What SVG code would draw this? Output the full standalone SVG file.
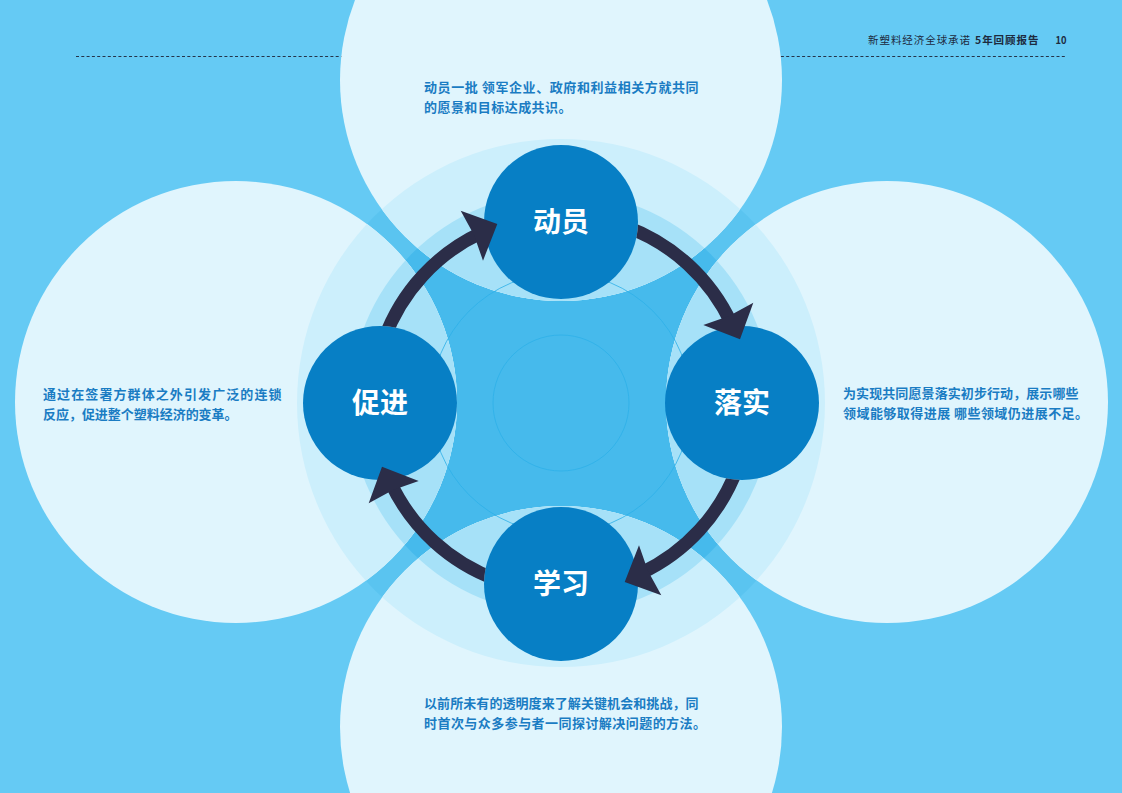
<svg xmlns="http://www.w3.org/2000/svg" width="1122" height="793" viewBox="0 0 1122 793">
<style>
.desc{font-family:"Noto Sans CJK SC","Noto Sans",sans-serif;font-weight:700;font-size:13px;fill:#1A7CC3;letter-spacing:0.45px}
.hdr{font-family:"Noto Sans CJK SC","Noto Sans",sans-serif;font-size:10.5px;fill:#1D2B3F}
.hdrb{font-family:"Noto Sans CJK SC","Noto Sans",sans-serif;font-size:10.5px;font-weight:700;fill:#1D2B3F}
.node circle{fill:#077FC5}
.node text{font-family:"Noto Sans CJK SC","Noto Sans",sans-serif;font-weight:700;font-size:28px;fill:#FFFFFF;text-anchor:middle}
.shaft{fill:none;stroke:#2B2D48;stroke-width:13}
.head{fill:#2B2D48}
.thin{fill:none;stroke:#2DB0E8;stroke-opacity:0.8;stroke-width:1}
</style>
<defs>
<clipPath id="bigClip">
<circle cx="561" cy="80" r="221"/>
<circle cx="561" cy="727" r="221"/>
<circle cx="236" cy="402" r="221"/>
<circle cx="887" cy="402" r="221"/>
</clipPath>
<mask id="nodeMask" maskUnits="userSpaceOnUse" x="0" y="0" width="1122" height="793">
<rect x="0" y="0" width="1122" height="793" fill="#fff"/>
<circle cx="561" cy="222" r="77" fill="#000"/>
<circle cx="742" cy="403" r="77" fill="#000"/>
<circle cx="561" cy="584" r="77" fill="#000"/>
<circle cx="380" cy="403" r="77" fill="#000"/>
</mask>
</defs>

<rect x="0" y="0" width="1122" height="793" fill="#65CAF4"/>

<!-- header -->
<g id="header">
<line x1="76" y1="56.5" x2="1066" y2="56.5" stroke="#24344A" stroke-width="1" stroke-dasharray="3 2.3"/>
<text class="hdr" x="868" y="43.5" textLength="102" lengthAdjust="spacing">新塑料经济全球承诺</text>
<text class="hdrb" x="975" y="43.5" textLength="63.5" lengthAdjust="spacing">5年回顾报告</text>
<text class="hdrb" x="1055.5" y="43.5" textLength="11" lengthAdjust="spacingAndGlyphs">10</text>
</g>

<!-- background rings -->
<g id="rings">
<circle cx="561" cy="403" r="264" fill="#5AC4F0"/>
<circle cx="561" cy="403" r="211" fill="#46BAEC"/>
</g>

<!-- big pale circles -->
<g id="panels">
<circle cx="561" cy="80" r="221" fill="#E0F5FD"/>
<circle cx="561" cy="727" r="221" fill="#E0F5FD"/>
<circle cx="236" cy="402" r="221" fill="#E0F5FD"/>
<circle cx="887" cy="402" r="221" fill="#E0F5FD"/>
<g clip-path="url(#bigClip)">
<circle cx="561" cy="403" r="264" fill="#CCEFFC"/>
<circle cx="561" cy="403" r="211" fill="#A6E1F8"/>
</g>
<circle class="thin" cx="561" cy="403" r="130"/>
<circle class="thin" cx="561" cy="403" r="68"/>
</g>

<!-- descriptions -->
<g id="desc-top">
<text class="desc" x="424" y="92" textLength="275" lengthAdjust="spacing">动员一批 领军企业、政府和利益相关方就共同</text>
<text class="desc" x="424" y="111.5">的愿景和目标达成共识。</text>
</g>
<g id="desc-right">
<text class="desc" x="843" y="398" textLength="236" lengthAdjust="spacing">为实现共同愿景落实初步行动，展示哪些</text>
<text class="desc" x="843" y="418">领域能够取得进展 哪些领域仍进展不足。</text>
</g>
<g id="desc-bottom">
<text class="desc" x="424" y="707.5" textLength="275" lengthAdjust="spacing">以前所未有的透明度来了解关键机会和挑战，同</text>
<text class="desc" x="424" y="727.5">时首次与众多参与者一同探讨解决问题的方法。</text>
</g>
<g id="desc-left">
<text class="desc" x="43" y="399" textLength="239" lengthAdjust="spacing">通过在签署方群体之外引发广泛的连锁</text>
<text class="desc" x="43" y="419" textLength="195" lengthAdjust="spacing">反应，促进整个塑料经济的变革。</text>
</g>

<!-- nodes -->
<g id="node-mobilize" class="node">
<circle cx="561" cy="222" r="77"/>
<text x="561" y="232">动员</text>
</g>
<g id="node-implement" class="node">
<circle cx="742" cy="403" r="77"/>
<text x="742" y="413">落实</text>
</g>
<g id="node-learn" class="node">
<circle cx="561" cy="584" r="77"/>
<text x="561" y="594">学习</text>
</g>
<g id="node-promote" class="node">
<circle cx="380" cy="403" r="77"/>
<text x="380" y="413">促进</text>
</g>

<!-- connectors -->
<g id="connectors">
<g id="c-mobilize-implement">
<path class="shaft" mask="url(#nodeMask)" d="M625.3 226.34 A188 188 0 0 1 731.39 323.55"/>
<polygon class="head" points="740,339.3 753.3,302.7 729,316 703.3,325"/>
</g>
<g id="c-implement-learn" transform="rotate(90 561 403)">
<path class="shaft" mask="url(#nodeMask)" d="M625.3 226.34 A188 188 0 0 1 731.39 323.55"/>
<polygon class="head" points="740,339.3 753.3,302.7 729,316 703.3,325"/>
</g>
<g id="c-learn-promote" transform="rotate(180 561 403)">
<path class="shaft" mask="url(#nodeMask)" d="M625.3 226.34 A188 188 0 0 1 731.39 323.55"/>
<polygon class="head" points="740,339.3 753.3,302.7 729,316 703.3,325"/>
</g>
<g id="c-promote-mobilize" transform="rotate(-90 561 403)">
<path class="shaft" mask="url(#nodeMask)" d="M625.3 226.34 A188 188 0 0 1 731.39 323.55"/>
<polygon class="head" points="740,339.3 753.3,302.7 729,316 703.3,325"/>
</g>
</g>
</svg>
